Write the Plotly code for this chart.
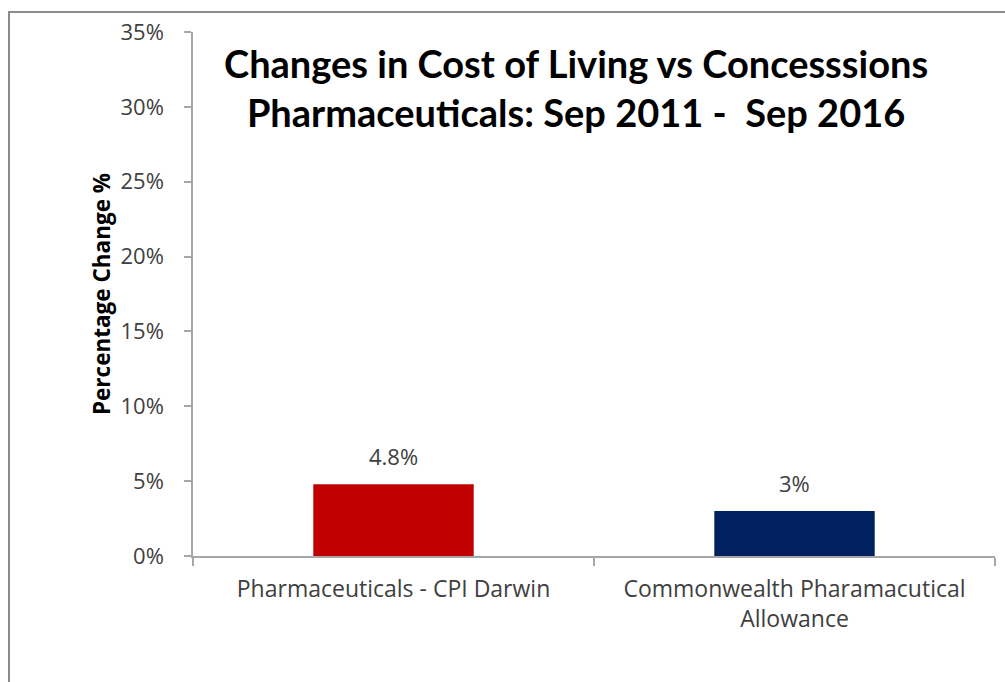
import plotly.graph_objects as go

# Data
categories = ["Pharmaceuticals - CPI Darwin", "Commonwealth Pharamacutical<br>Allowance"]
values = [4.8, 3]
bar_colors = ["#C00000", "#002060"]
y_ticks = [0, 5, 10, 15, 20, 25, 30, 35]
y_tick_labels = ["0%", "5%", "10%", "15%", "20%", "25%", "30%", "35%"]
title_lines = ["Changes in Cost of Living vs Concesssions", "Pharmaceuticals: Sep 2011 -  Sep 2016"]

W, H = 1005, 682
L, R, T, B = 193, 10, 32, 126
pw, ph = W - L - R, H - T - B

def px_x(px):
    return (px - L) / pw

def px_y(py):
    return (H - B - py) / ph

BODY = "'Open Sans', Arial, sans-serif"
HEAD = "Lato, 'Open Sans', Arial, sans-serif"
TXT = "#404040"
AXIS = "#A6A6A6"

fig = go.Figure()
fig.add_trace(go.Bar(
    x=categories,
    y=values,
    marker=dict(color=bar_colors, line=dict(width=0)),
    width=0.4,
    hoverinfo="skip",
))

# value labels above each bar
for c, v in zip(categories, values):
    fig.add_annotation(
        x=c, y=v, xref="x", yref="y",
        text=f"{v:g}%", showarrow=False,
        yanchor="bottom", yshift=11,
        font=dict(family=BODY, size=22, color=TXT),
    )

# chart title
fig.add_annotation(
    x=px_x(576), y=px_y(88), xref="paper", yref="paper",
    text="<b>" + "<br>".join(title_lines) + "</b>", showarrow=False,
    xanchor="center", yanchor="middle",
    font=dict(family=HEAD, size=38, color="#000000"),
    align="center",
)

# outer chart frame
fig.add_shape(
    type="rect", xref="paper", yref="paper",
    x0=px_x(9), x1=px_x(1030), y0=px_y(700), y1=px_y(12),
    line=dict(color="#8C8C8C", width=2),
    fillcolor="rgba(0,0,0,0)", layer="below",
)

fig.update_layout(
    width=W, height=H,
    margin=dict(l=L, r=R, t=T, b=B, pad=0),
    paper_bgcolor="white",
    plot_bgcolor="white",
    showlegend=False,
    font=dict(family=BODY, color=TXT),
    xaxis=dict(
        type="category",
        showline=True, linecolor=AXIS, linewidth=1.5,
        ticks="outside", tickson="boundaries", ticklen=8,
        tickcolor=AXIS, tickwidth=1.5,
        tickfont=dict(family=BODY, size=23, color=TXT),
        ticklabelstandoff=12,
        showgrid=False, zeroline=False,
    ),
    yaxis=dict(
        range=[0, 35],
        tickvals=y_ticks, ticktext=y_tick_labels,
        showline=True, linecolor=AXIS, linewidth=1.5,
        ticks="outside", ticklen=7, tickcolor=AXIS, tickwidth=1.5,
        tickfont=dict(family=BODY, size=22, color=TXT),
        ticklabelstandoff=16,
        showgrid=False, zeroline=False,
        title=dict(
            text="<b>Percentage Change %</b>",
            font=dict(family=BODY, size=22.5, color="#000000"),
            standoff=4,
        ),
    ),
)

fig.write_html("out.html")
